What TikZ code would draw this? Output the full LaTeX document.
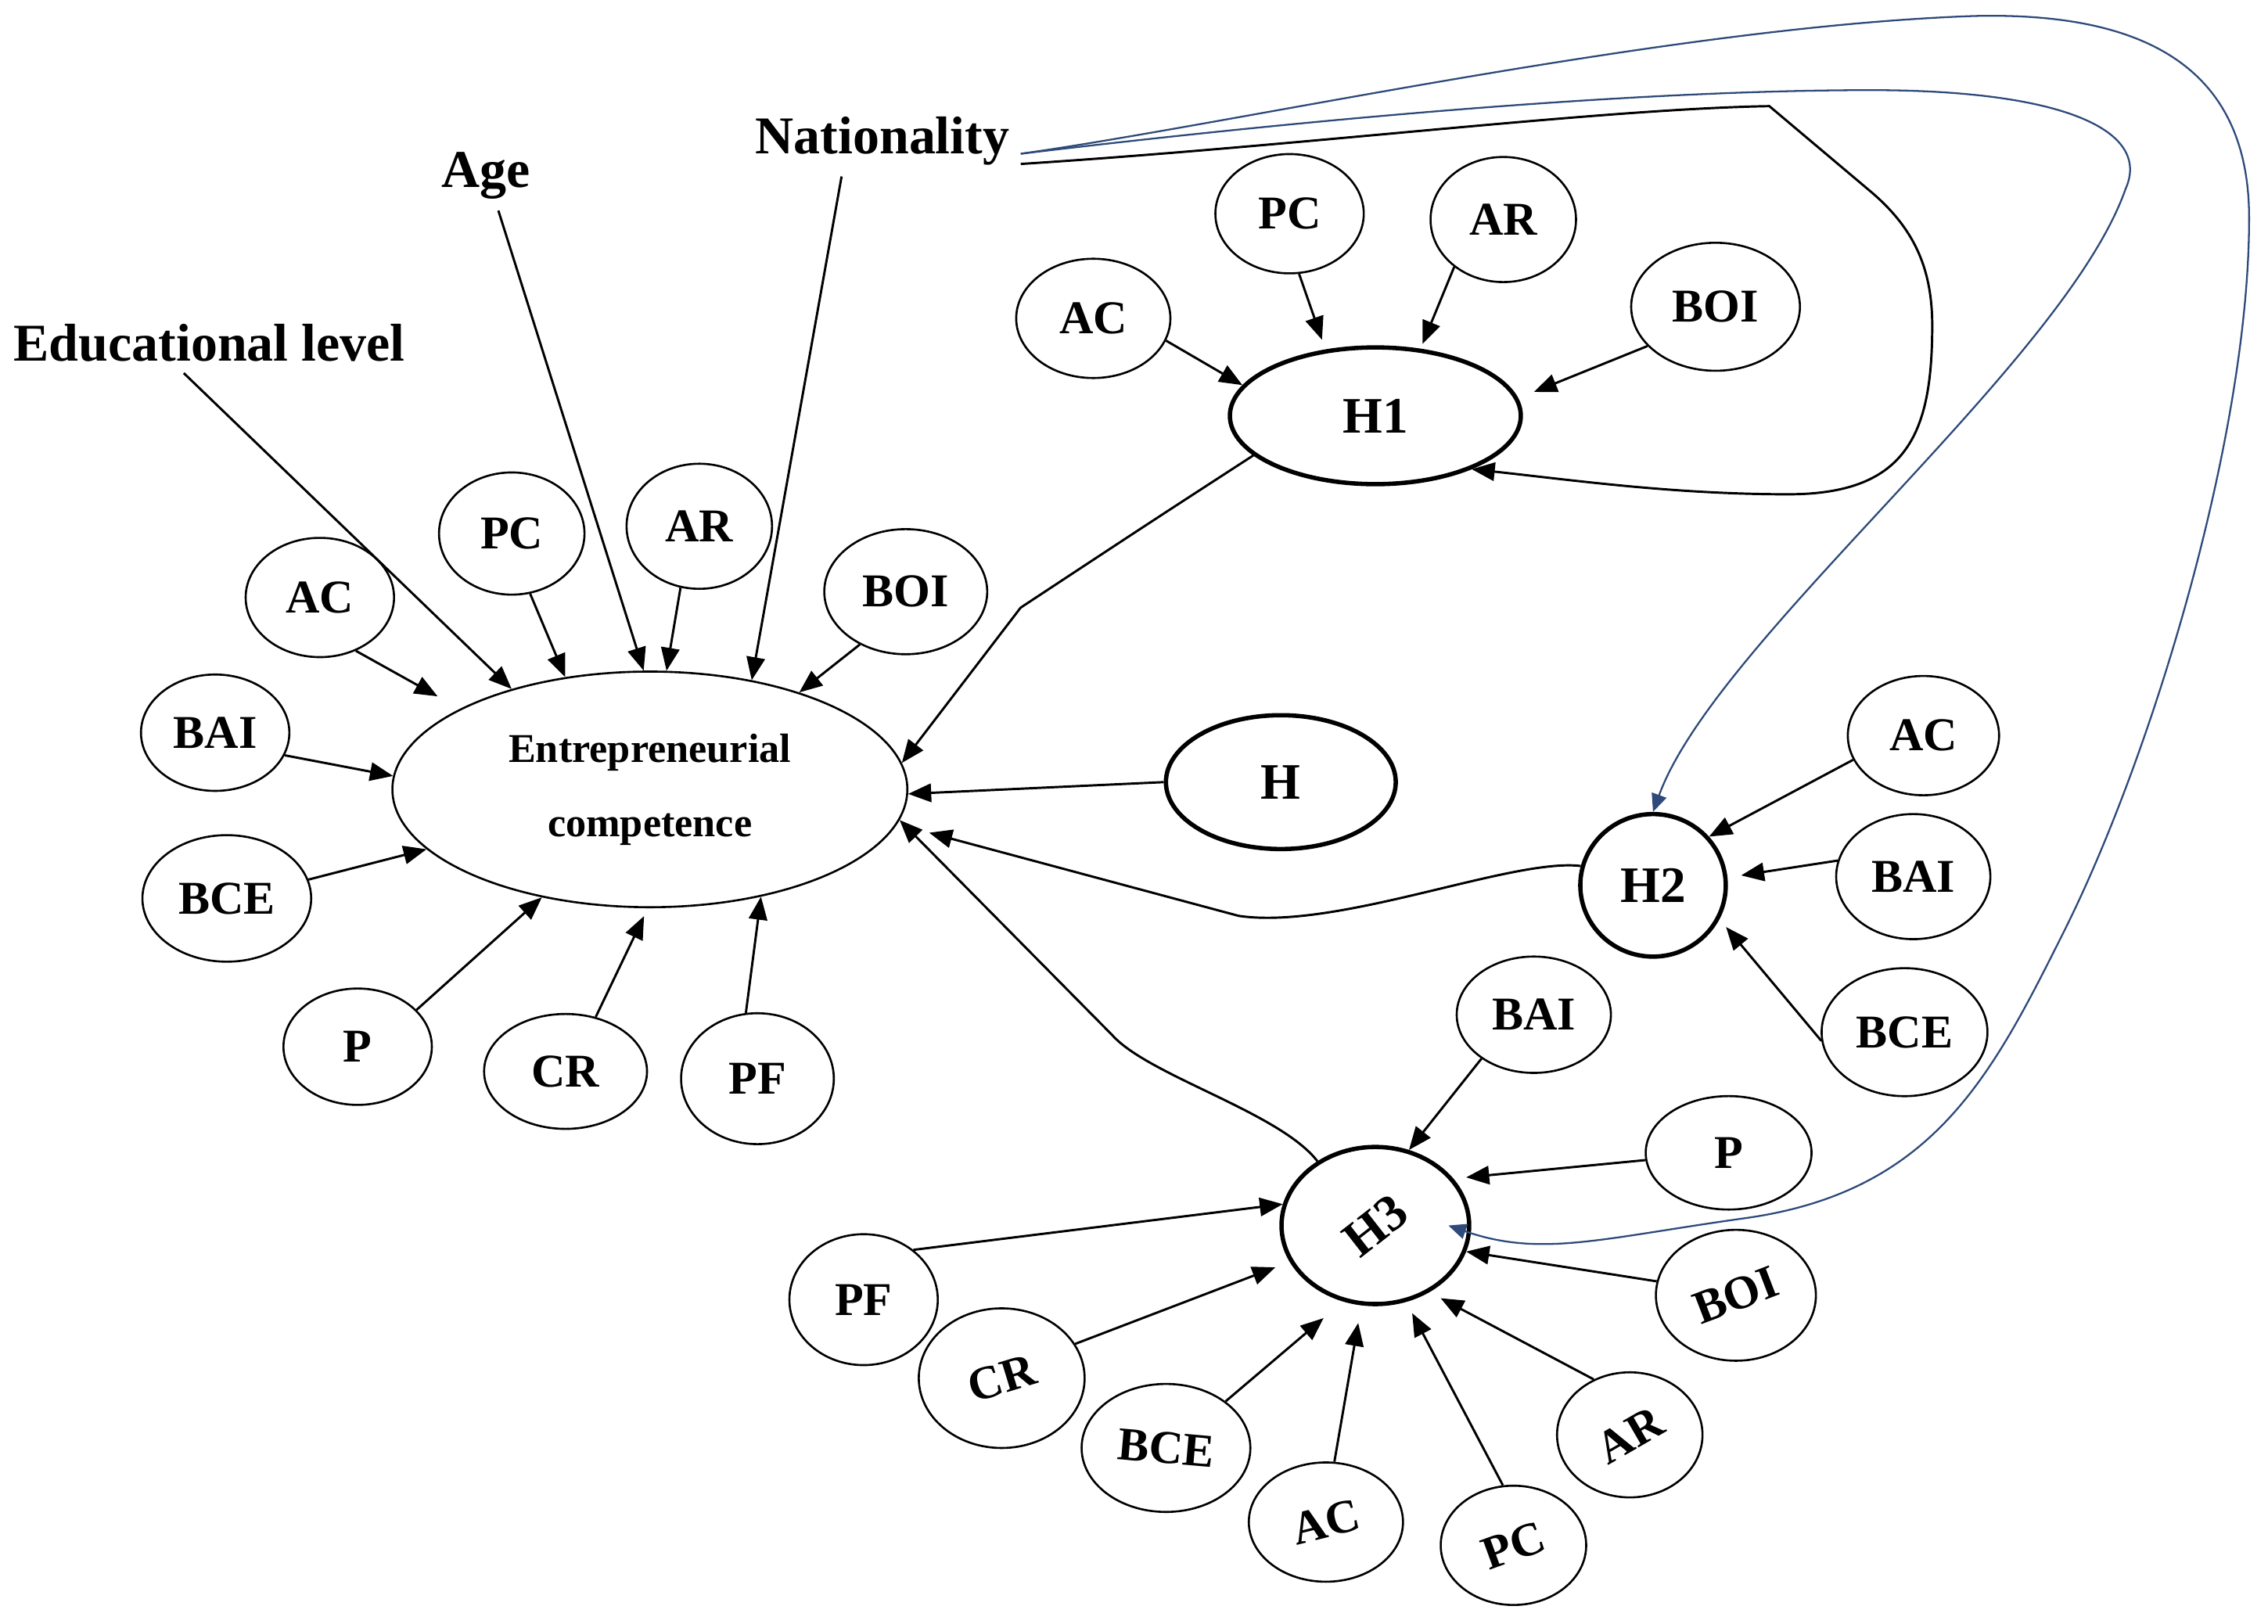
\documentclass[tikz,border=0pt]{standalone}
\usepackage{fontspec}
\setmainfont{Liberation Serif}
\usepackage{graphicx}
\usetikzlibrary{shapes.geometric, arrows.meta}
\definecolor{linkblue}{RGB}{46,74,122}
\tikzset{
	dims/.style 2 args={minimum width=#1cm, minimum height=#2cm},
	factor/.style={draw, ellipse, line width=0.4pt, inner sep=0pt, font=\fontsize{9.2}{11}\selectfont\bfseries},
	hypo/.style={draw, ellipse, line width=0.85pt, inner sep=0pt, font=\fontsize{10}{12}\selectfont\bfseries},
	control/.style={inner sep=2pt, font=\fontsize{10.4}{12}\selectfont\bfseries},
	link/.style={-{Triangle[length=4.5pt,width=3.6pt]}, line width=0.45pt},
	bluelink/.style={-{Triangle[length=3.5pt,width=3pt]}, line width=0.35pt, draw=linkblue, fill=none},
}
\begin{document}
\begin{tikzpicture}[x=0.01cm, y=-0.01cm]
		\useasboundingbox (0,0) rectangle (1560,1117);
		
		%Main construct and control variables
		\node (EC) at (447,543) [factor, dims={3.54}{1.62}, align=center, font=\fontsize{8}{14.5}\selectfont\bfseries]{Entrepreneurial\\competence};
		\node (edu) at (144,236) [control]{Educational level};
		\node (age) at (334,121) [control]{Age};
		\node (nat) at (607,97) [control]{Nationality};
		
		%Blocks around the main construct
		\node (ecAC) at (220,411) [factor, dims={1.02}{0.82}]{AC};
		\node (ecPC) at (352,367) [factor, dims={1.00}{0.84}]{PC};
		\node (ecAR) at (481,362) [factor, dims={1.00}{0.86}]{AR};
		\node (ecBOI) at (623,407) [factor, dims={1.12}{0.86}]{BOI};
		\node (ecBAI) at (148,504) [factor, dims={1.02}{0.80}]{BAI};
		\node (ecBCE) at (156,618) [factor, dims={1.16}{0.87}]{BCE};
		\node (ecP) at (246,720) [factor, dims={1.02}{0.80}]{P};
		\node (ecCR) at (389,737) [factor, dims={1.12}{0.79}]{CR};
		\node (ecPF) at (521,742) [factor, dims={1.05}{0.90}]{PF};
		
		%Hypotheses
		\node (H1) at (946,286) [hypo, dims={2.00}{0.94}]{H1};
		\node (H) at (881,538) [hypo, dims={1.58}{0.92}]{H};
		\node (H2) at (1137,609) [hypo, dims={1.00}{0.98}]{H2};
		\node (H3) at (946,843) [hypo, dims={1.29}{1.08}]{\rotatebox{38}{H3}};
		
		%H1 blocks
		\node (h1AC) at (752,219) [factor, dims={1.06}{0.82}]{AC};
		\node (h1PC) at (887,147) [factor, dims={1.02}{0.82}]{PC};
		\node (h1AR) at (1034,151) [factor, dims={1.00}{0.86}]{AR};
		\node (h1BOI) at (1180,211) [factor, dims={1.16}{0.88}]{BOI};
		
		%H2 blocks
		\node (h2AC) at (1323,506) [factor, dims={1.04}{0.82}]{AC};
		\node (h2BAI) at (1316,603) [factor, dims={1.06}{0.86}]{BAI};
		\node (h2BCE) at (1310,710) [factor, dims={1.14}{0.88}]{BCE};
		
		%H3 blocks
		\node (h3BAI) at (1055,698) [factor, dims={1.06}{0.80}]{BAI};
		\node (h3P) at (1189,793) [factor, dims={1.14}{0.78}]{P};
		\node (h3BOI) at (1194,891) [factor, dims={1.10}{0.90}]{\rotatebox{21}{BOI}};
		\node (h3AR) at (1121,987) [factor, dims={1.00}{0.86}]{\rotatebox{30}{AR}};
		\node (h3PC) at (1041,1063) [factor, dims={1.00}{0.82}]{\rotatebox{20}{PC}};
		\node (h3AC) at (912,1047) [factor, dims={1.06}{0.82}]{\rotatebox{14}{AC}};
		\node (h3BCE) at (802,996) [factor, dims={1.16}{0.88}]{\rotatebox{-5}{BCE}};
		\node (h3CR) at (689,948) [factor, dims={1.14}{0.96}]{\rotatebox{17}{CR}};
		\node (h3PF) at (594,894) [factor, dims={1.02}{0.90}]{PF};
		
		%Links to the main construct
		\draw[link] ([xshift=-5pt]edu.south) -- (EC.144);
		\draw[link] ([xshift=2.5pt]age.south) -- (EC.93);
		\draw[link] ([xshift=-8pt]nat.south) -- (EC.47);
		\draw[link, shorten >=5pt] (ecAC.-56) -- (EC.157);
		\draw[link] (ecPC.-73) -- (EC.127);
		\draw[link] (ecAR.-107) -- (EC.82);
		\draw[link] (ecBOI.-131) -- (EC.33);
		\draw[link] (ecBAI.-18) -- (EC.177);
		\draw[link] (ecBCE.13) -- (EC.-165);
		\draw[link] (ecP.32) -- (EC.-135);
		\draw[link, shorten >=1.7pt] (ecCR.61) -- (EC.-91);
		\draw[link] (ecPF.100) -- (EC.-44);
		
		%Links of H1
		\draw[link] (h1AC.-17) -- (H1.167);
		\draw[link, shorten >=2pt] (h1PC.-81) -- (H1.127);
		\draw[link, shorten >=1pt] (h1AR.-136) -- (H1.56);
		\draw[link, shorten >=3.3pt] (h1BOI.-150) -- (H1.7);
		\draw[link] (H1.-162) .. controls (790,360) .. (702,418) -- (EC.6);
		
		%Link of H
		\draw[link] (H.180) -- (EC.-1);
		
		%Links of H2
		\draw[link] (h2AC.-161) -- (H2.41);
		\draw[link, shorten >=2.7pt] (h2BAI.168) -- (H2.6);
		\draw[link, shorten >=2pt] (h2BCE.-174) -- (H2.-27);
		\draw[link, shorten >=6.5pt] (H2.165) .. controls (1040,590) and (920,640) .. (852,630) -- (EC.-8);
		
		%Links of H3
		\draw[link] (h3BAI.-140) -- (H3.66);
		\draw[link, shorten >=2.5pt] (h3P.185) -- (H3.31);
		\draw[link] (h3BOI.170) -- (H3.-16);
		\draw[link, shorten >=2.5pt] (h3AR.123) -- (H3.-51);
		\draw[link, shorten >=2.5pt] (h3PC.100) -- (H3.-68);
		\draw[link, shorten >=3.5pt] (h3AC.82) -- (H3.-100);
		\draw[link, shorten >=5pt] (h3BCE.38) -- (H3.-113);
		\draw[link, shorten >=3pt] (h3CR.25) -- (H3.203);
		\draw[link] (h3PF.45) -- (H3.167);
		\draw[link] (H3.132) .. controls (880,765) and (790,740) .. (765,712) -- (EC.-7);
		
		%Nationality to the hypotheses
		\draw[link] ([yshift=-2pt]nat.base east) .. controls (900,100) and (1100,75) .. (1217,73) -- (1287,132) .. controls (1320,160) and (1330,190) .. (1329,230) .. controls (1328,300) and (1310,340) .. (1230,340) .. controls (1150,340) and (1080,330) .. (H1.-29);
		\draw[bluelink] (nat.base east) .. controls (850,88) and (1100,62) .. (1287,62) .. controls (1420,62) and (1480,90) .. (1462,130) .. controls (1420,250) and (1180,440) .. (H2.north);
		\draw[bluelink] (nat.base east) .. controls (850,85) and (1150,18) .. (1358,11) .. controls (1480,8) and (1547,50) .. (1547,150) .. controls (1547,300) and (1480,520) .. (1420,640) .. controls (1370,740) and (1330,820) .. (1200,838) .. controls (1100,852) and (1060,865) .. ([xshift=-4.5pt]H3.east);
		
\end{tikzpicture}
\end{document}
